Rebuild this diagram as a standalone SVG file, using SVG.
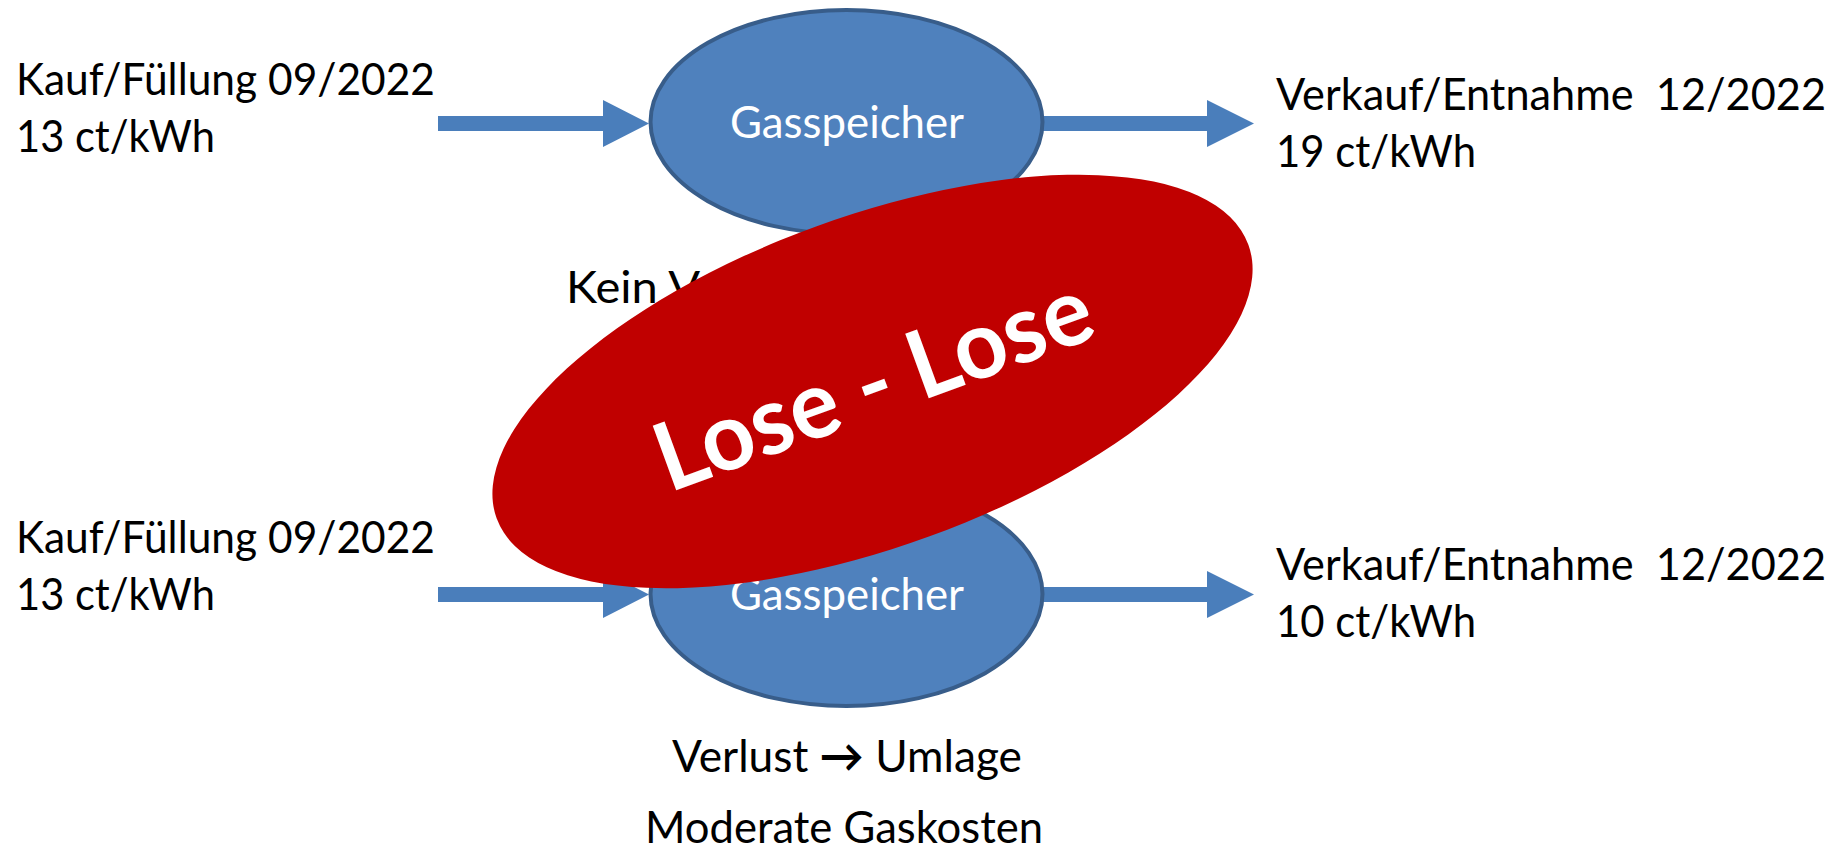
<svg xmlns="http://www.w3.org/2000/svg" width="1846" height="850" viewBox="0 0 1846 850">
<style>
.lbl{font-family:Lato,"Liberation Sans",sans-serif;font-size:45px;fill:#000}
.node{fill:#4F81BD;stroke:#385D8A;stroke-width:4}
.ntxt{font-family:Lato,"Liberation Sans",sans-serif;font-size:44px;fill:#fff;text-anchor:middle}
.arr{fill:#4A7EBB}
.mid{text-anchor:middle}
</style>
<rect width="1846" height="850" fill="#fff"/>
<g id="connectors">
  <path class="arr" d="M438,116 H603 V100 L649,123.5 L603,147 V131 H438 Z"/>
  <path class="arr" d="M1035,116 H1207 V100 L1254,123.5 L1207,147 V131 H1035 Z"/>
  <path class="arr" d="M438,587 H603 V571 L649,594.5 L603,618 V602 H438 Z"/>
  <path class="arr" d="M1035,587 H1207 V571 L1254,594.5 L1207,618 V602 H1035 Z"/>
</g>
<g id="label-kauf-top">
  <text class="lbl" x="16" y="95" textLength="419" lengthAdjust="spacingAndGlyphs">Kauf/Füllung 09/2022</text>
  <text class="lbl" x="16" y="152" textLength="199" lengthAdjust="spacingAndGlyphs">13 ct/kWh</text>
</g>
<g id="label-verkauf-top">
  <text class="lbl" x="1276" y="110" textLength="550" lengthAdjust="spacingAndGlyphs" xml:space="preserve">Verkauf/Entnahme  12/2022</text>
  <text class="lbl" x="1276" y="167" textLength="200" lengthAdjust="spacingAndGlyphs">19 ct/kWh</text>
</g>
<g id="label-kauf-bottom">
  <text class="lbl" x="16" y="553" textLength="419" lengthAdjust="spacingAndGlyphs">Kauf/Füllung 09/2022</text>
  <text class="lbl" x="16" y="610" textLength="199" lengthAdjust="spacingAndGlyphs">13 ct/kWh</text>
</g>
<g id="label-verkauf-bottom">
  <text class="lbl" x="1276" y="580" textLength="550" lengthAdjust="spacingAndGlyphs" xml:space="preserve">Verkauf/Entnahme  12/2022</text>
  <text class="lbl" x="1276" y="637" textLength="200" lengthAdjust="spacingAndGlyphs">10 ct/kWh</text>
</g>
<g id="gasspeicher-top">
  <ellipse class="node" cx="846.5" cy="122" rx="196" ry="112"/>
  <text class="ntxt" x="847" y="138" textLength="234" lengthAdjust="spacingAndGlyphs">Gasspeicher</text>
</g>
<g id="gasspeicher-bottom">
  <ellipse class="node" cx="846.5" cy="594" rx="196" ry="112"/>
  <text class="ntxt" x="847" y="610" textLength="234" lengthAdjust="spacingAndGlyphs">Gasspeicher</text>
</g>
<g id="label-kein">
  <text class="lbl" x="566" y="303" textLength="134" lengthAdjust="spacingAndGlyphs">Kein V</text>
</g>
<g id="label-verlust">
  <text class="lbl mid" x="847" y="772" textLength="350" lengthAdjust="spacingAndGlyphs">Verlust <tspan font-weight="bold">→</tspan> Umlage</text>
  <text class="lbl mid" x="844" y="843" textLength="398" lengthAdjust="spacingAndGlyphs">Moderate Gaskosten</text>
</g>
<g id="lose-lose" transform="translate(872.5,381.5) rotate(-20)">
  <ellipse cx="0" cy="0" rx="400" ry="165" fill="#C00000"/>
  <text x="0" y="35" font-family="Lato,'Liberation Sans',sans-serif" font-weight="bold" font-size="95" fill="#fff" text-anchor="middle" textLength="458" lengthAdjust="spacingAndGlyphs">Lose - Lose</text>
</g>
</svg>
